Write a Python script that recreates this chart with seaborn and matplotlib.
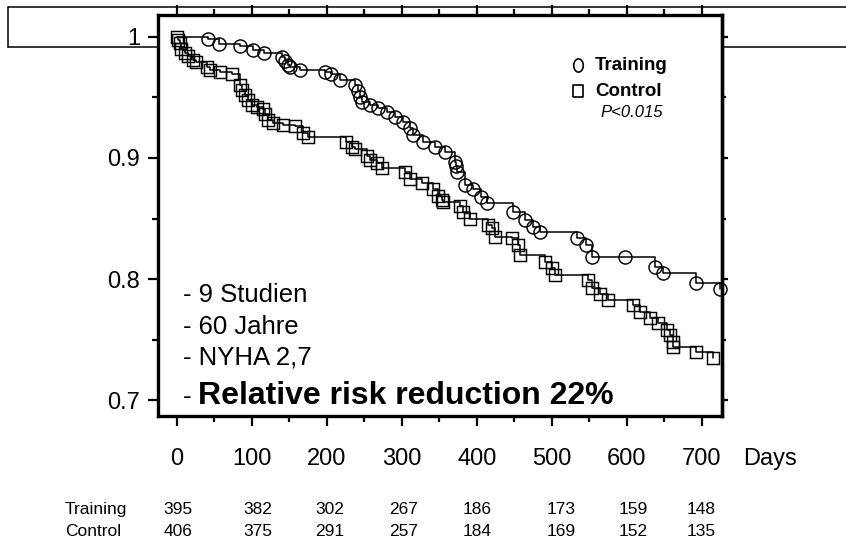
import numpy as np
import pandas as pd
import matplotlib
matplotlib.use("Agg")
import matplotlib.pyplot as plt
from matplotlib.lines import Line2D
from matplotlib.path import Path
from matplotlib.ticker import FixedLocator, MultipleLocator
import seaborn as sns

# Kaplan-Meier style survival steps (day, event-free fraction)
training_days = [0, 41, 56, 84, 101, 116, 140, 144, 148, 151,
                 164, 197, 206, 217, 237, 241, 244, 247, 257, 268,
                 280, 291, 301, 311, 315, 328, 344, 357, 371, 372,
                 373, 384, 395, 406, 413, 448, 464, 475, 484, 533,
                 546, 553, 597, 637, 648, 692, 724]
training_surv = [1.0, 0.998, 0.994, 0.992, 0.989, 0.987, 0.983, 0.980, 0.977, 0.975,
                 0.973, 0.971, 0.969, 0.964, 0.960, 0.955, 0.950, 0.946, 0.944, 0.941,
                 0.938, 0.934, 0.930, 0.925, 0.919, 0.913, 0.909, 0.905, 0.897, 0.893,
                 0.888, 0.878, 0.874, 0.868, 0.863, 0.855, 0.849, 0.843, 0.839, 0.834,
                 0.828, 0.818, 0.818, 0.810, 0.805, 0.797, 0.792]

control_days = [0, 2, 4, 6, 11, 15, 22, 26, 40, 44,
                57, 73, 84, 87, 91, 95, 100, 107, 115, 117,
                121, 128, 141, 157, 168, 175, 226, 233, 237, 253,
                257, 267, 273, 304, 311, 327, 341, 348, 353, 355,
                377, 381, 391, 415, 420, 424, 447, 455, 457, 491,
                500, 504, 548, 553, 564, 575, 608, 617, 631, 641,
                653, 657, 661, 662, 692, 715]
control_surv = [1.0, 0.997, 0.995, 0.990, 0.987, 0.984, 0.981, 0.979, 0.975, 0.973,
                0.971, 0.969, 0.960, 0.956, 0.952, 0.948, 0.944, 0.942, 0.940, 0.936,
                0.931, 0.929, 0.927, 0.926, 0.921, 0.917, 0.913, 0.909, 0.907, 0.902,
                0.898, 0.896, 0.892, 0.888, 0.883, 0.879, 0.874, 0.869, 0.865, 0.864,
                0.860, 0.855, 0.850, 0.845, 0.842, 0.835, 0.834, 0.828, 0.820, 0.814,
                0.809, 0.803, 0.799, 0.793, 0.788, 0.783, 0.779, 0.773, 0.768, 0.764,
                0.758, 0.754, 0.748, 0.744, 0.740, 0.735]

x_ticks = [0, 100, 200, 300, 400, 500, 600, 700]
y_ticks = [0.7, 0.8, 0.9, 1.0]
y_tick_labels = ["0.7", "0.8", "0.9", "1"]
x_unit = "Days"

group_names = ["Training", "Control"]
training_at_risk = [395, 382, 302, 267, 186, 173, 159, 148]
control_at_risk = [406, 375, 291, 257, 184, 169, 152, 135]

notes = ["- 9 Studien", "- 60 Jahre", "- NYHA 2,7"]
headline = "Relative risk reduction 22%"
p_value_text = "P<0.015"

# ---------------------------------------------------------------- layout
W, H = 846, 539
sns.set_style("ticks")
plt.rcParams["font.family"] = ["Liberation Sans", "DejaVu Sans"]
plt.rcParams.update({
    "text.color": "black",
    "axes.edgecolor": "black",
    "axes.labelcolor": "black",
    "xtick.color": "black",
    "ytick.color": "black",
})


def fx(px):
    return px / W


def fy(py):
    return 1 - py / H


fig = plt.figure(figsize=(W / 100, H / 100), dpi=100)
fig.patch.set_facecolor("white")

# thin frame of the slide panel behind the plot
frame_kw = dict(color="black", linewidth=1.1, transform=fig.transFigure)
fig.add_artist(Line2D([fx(8), fx(846)], [fy(7), fy(7)], **frame_kw))
fig.add_artist(Line2D([fx(8), fx(8)], [fy(7), fy(47)], **frame_kw))
fig.add_artist(Line2D([fx(8), fx(158)], [fy(47), fy(47)], **frame_kw))
fig.add_artist(Line2D([fx(722), fx(846)], [fy(47), fy(47)], **frame_kw))

ax = fig.add_axes([fx(158), fy(416), fx(722) - fx(158), fy(15) - fy(416)])
ax.set_facecolor("white")

df = pd.concat([
    pd.DataFrame({"group": group_names[0], "day": training_days, "surv": training_surv}),
    pd.DataFrame({"group": group_names[1], "day": control_days, "surv": control_surv}),
])

line_kw = dict(drawstyle="steps-post", color="black", linewidth=1.1,
               markerfacecolor="none", markeredgecolor="black",
               markeredgewidth=1.05, estimator=None, sort=False,
               legend=False, clip_on=False)

tr = df[df.group == group_names[0]]
sns.lineplot(data=tr, x="day", y="surv", ax=ax, marker="o", markersize=9.4,
             markevery=list(range(1, len(tr))), **line_kw)
co = df[df.group == group_names[1]]
sns.lineplot(data=co, x="day", y="surv", ax=ax, marker="s", markersize=8.6,
             **line_kw)

ax.set_xlim(-25, 727)
ax.set_ylim(0.687, 1.018)
ax.set_xlabel("")
ax.set_ylabel("")

ax.xaxis.set_major_locator(FixedLocator(x_ticks))
ax.xaxis.set_minor_locator(MultipleLocator(50))
ax.yaxis.set_major_locator(FixedLocator(y_ticks))
ax.yaxis.set_minor_locator(MultipleLocator(0.05))
ax.set_yticklabels(y_tick_labels)

for s in ax.spines.values():
    s.set_visible(True)
    s.set_linewidth(2.4)
    s.set_color("black")

ax.tick_params(axis="x", which="major", direction="out", length=7, width=1.6,
               labelsize=17, pad=16, top=True, bottom=True)
ax.tick_params(axis="x", which="minor", direction="out", length=4.5, width=1.6,
               top=True, bottom=True)
ax.tick_params(axis="y", which="major", direction="out", length=7, width=1.6,
               labelsize=17, pad=6, left=True, right=False)
ax.tick_params(axis="y", which="minor", direction="out", length=4.5, width=1.6,
               left=True, right=False)

# right-hand ticks are shorter than the left ones
ry = ax.secondary_yaxis("right")
ry.yaxis.set_major_locator(FixedLocator(y_ticks))
ry.yaxis.set_minor_locator(MultipleLocator(0.05))
ry.tick_params(which="major", direction="out", length=4.5, width=1.6, labelright=False)
ry.tick_params(which="minor", direction="out", length=3, width=1.6)
ry.spines["right"].set_linewidth(2.4)

# x unit label
fig.text(fx(770), fy(465), x_unit, fontsize=17, ha="center", va="baseline")

# summary notes inside the plot
for i, t in enumerate(notes):
    fig.text(fx(183), fy(302 + 31.5 * i), t, fontsize=18.5, ha="left", va="baseline")
fig.text(fx(183), fy(404), "-", fontsize=18.5, ha="left", va="baseline")
fig.text(fx(198), fy(404), headline, fontsize=23, fontweight="bold",
         ha="left", va="baseline")

# legend
theta = np.linspace(0, 2 * np.pi, 60)
ellipse = Path(np.column_stack([0.72 * np.cos(theta), np.sin(theta)]))
rect = Path([(-0.7, -0.85), (0.7, -0.85), (0.7, 0.85), (-0.7, 0.85), (-0.7, -0.85)])
fig.add_artist(Line2D([fx(578)], [fy(65)], marker=ellipse, markersize=9.5,
                      markerfacecolor="none", markeredgecolor="black",
                      markeredgewidth=1.2, linestyle="", transform=fig.transFigure))
fig.add_artist(Line2D([fx(578)], [fy(91)], marker=rect, markersize=8,
                      markerfacecolor="none", markeredgecolor="black",
                      markeredgewidth=1.2, linestyle="", transform=fig.transFigure))
fig.text(fx(595), fy(70), group_names[0], fontsize=13.5, fontweight="bold",
         ha="left", va="baseline")
fig.text(fx(595), fy(96), group_names[1], fontsize=13.5, fontweight="bold",
         ha="left", va="baseline")
fig.text(fx(600), fy(117), p_value_text, fontsize=12, fontstyle="italic",
         ha="left", va="baseline")

# numbers at risk
table_x = [178, 258, 330, 404, 477, 561, 633, 701]
for row_y, name, counts in [(514, group_names[0], training_at_risk),
                            (536, group_names[1], control_at_risk)]:
    fig.text(fx(65), fy(row_y), name, fontsize=12.5, ha="left", va="baseline")
    for px, n in zip(table_x, counts):
        fig.text(fx(px), fy(row_y), str(n), fontsize=12.5, ha="center", va="baseline")

fig.savefig("out.png", dpi=100, facecolor="white")
